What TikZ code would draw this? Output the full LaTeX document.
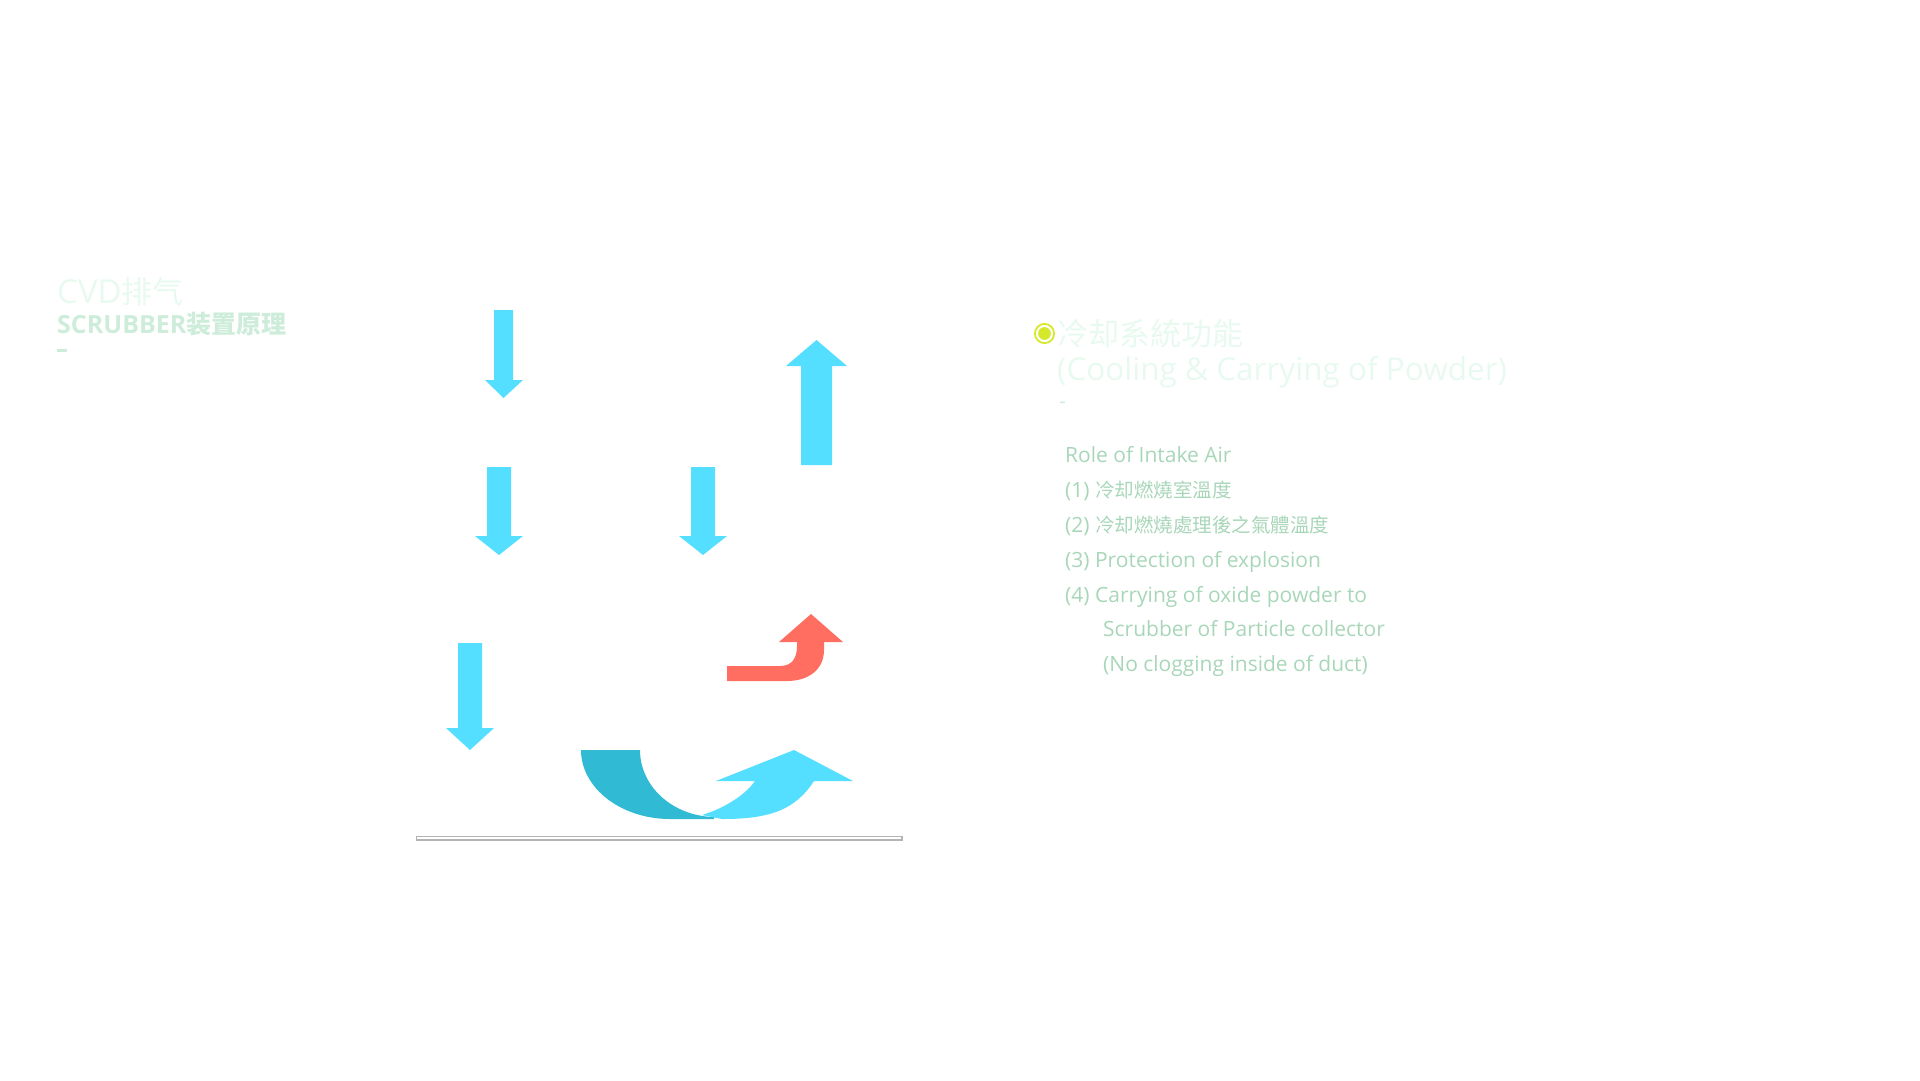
\documentclass[tikz,border=0pt]{standalone}
\usepackage{fontspec}
\setmainfont{Open Sans}
\newfontfamily\cjksc{Noto Sans CJK SC}
\newfontfamily\cjktc{Noto Sans CJK TC}
\definecolor{cyanL}{RGB}{84,222,255}
\definecolor{tealD}{RGB}{49,186,211}
\definecolor{redA}{RGB}{255,110,96}
\definecolor{paleT}{RGB}{232,250,240}
\definecolor{midT}{RGB}{205,236,217}
\definecolor{bodyT}{RGB}{168,214,184}
\definecolor{bulletY}{RGB}{214,232,44}
\newcommand{\cjkbody}[1]{{\cjktc\fontsize{19.5}{24}\selectfont #1}}
\tikzset{
  arrowfill/.style={fill=cyanL, draw=none},
  titleA/.style={anchor=base west, inner sep=0pt, text=paleT, font=\fontsize{33}{36}\selectfont},
  titleB/.style={anchor=base west, inner sep=0pt, text=midT, font=\bfseries\fontsize{25}{28}\selectfont},
  rtitle/.style={anchor=base west, inner sep=0pt, text=paleT, font=\fontsize{31.5}{36}\selectfont},
  body/.style={anchor=base west, inner sep=0pt, text=bodyT, font=\fontsize{21}{24}\selectfont},
}
\begin{document}
\begin{tikzpicture}[x=1pt,y=-1pt]
\useasboundingbox (0,0) rectangle (1920,1080);
% left title
\node[titleA] (t1) at (57,303) {CVD{\cjksc\fontsize{31}{36}\selectfont 排气}};
\node[titleB] (t2) at (57,333) {SCRUBBER{\cjksc\fontsize{25}{28}\selectfont 装置原理}};
\fill[midT] (57,349.3) rectangle (67,352);
% down arrows
\fill[arrowfill] (494,310) -- (513,310) -- (513,380) -- (523,380) -- (503.5,398) -- (485,380) -- (494,380) -- cycle;
\fill[arrowfill] (487,467) -- (511,467) -- (511,536) -- (523,536) -- (499,555) -- (475,536) -- (487,536) -- cycle;
\fill[arrowfill] (691,467) -- (715,467) -- (715,536) -- (727,536) -- (703,555) -- (679,536) -- (691,536) -- cycle;
\fill[arrowfill] (458,643) -- (482,643) -- (482,728) -- (494,728) -- (470,750) -- (446,728) -- (458,728) -- cycle;
% up arrow
\fill[arrowfill] (801,465) -- (832,465) -- (832,366) -- (847,366) -- (816.5,340) -- (786,366) -- (801,366) -- cycle;
% red bent arrow
\fill[redA] (727,666) -- (780,666) .. controls (792,666) and (797,658) .. (797,646) -- (797,642) -- (779,642) -- (811,614) -- (843,642) -- (824,642) -- (824,650) .. controls (824,670) and (808,681) .. (787,681) -- (727,681) -- cycle;
% dark U shape
\fill[tealD] (581,750) -- (640,750) .. controls (640,786) and (672,816) .. (714,817) -- (714,819) -- (670,819) .. controls (621,819) and (581,788) .. (581,750) -- cycle;
% light curved arrow
\fill[cyanL] (702,815) .. controls (725,808) and (745,795) .. (755,781) -- (716,781) -- (794,750) -- (853,781) -- (814,781) .. controls (795,810) and (770,819) .. (722,819) -- cycle;
% base plate
\draw[draw={rgb,255:red,180;green,180;blue,180}, line width=1.2pt, fill=white] (416.5,836.5) rectangle (902,840);
% right title
\draw[bulletY, line width=1.8pt, fill=white] (1044.5,333.5) circle (9.6);
\fill[bulletY] (1044.5,333.5) circle (6.4);
\node[rtitle] (r1) at (1057,345) {\cjktc\fontsize{31}{36}\selectfont 冷却系統功能};
\node[rtitle] (r2) at (1057,380) {(Cooling \& Carrying of Powder)};
\node[body, text=midT] (r3) at (1059,408) {-};
% body
\node[body] (b0) at (1065,462) {Role of Intake Air};
\node[body] (b1) at (1065,497) {(1) \cjkbody{冷却燃燒室溫度}};
\node[body] (b2) at (1065,532) {(2) \cjkbody{冷却燃燒處理後之氣體溫度}};
\node[body] (b3) at (1065,567) {(3) Protection of explosion};
\node[body] (b4) at (1065,602) {(4) Carrying of oxide powder to};
\node[body] (b5) at (1103,636) {Scrubber of Particle collector};
\node[body] (b6) at (1103,671) {(No clogging inside of duct)};
\end{tikzpicture}
\end{document}
